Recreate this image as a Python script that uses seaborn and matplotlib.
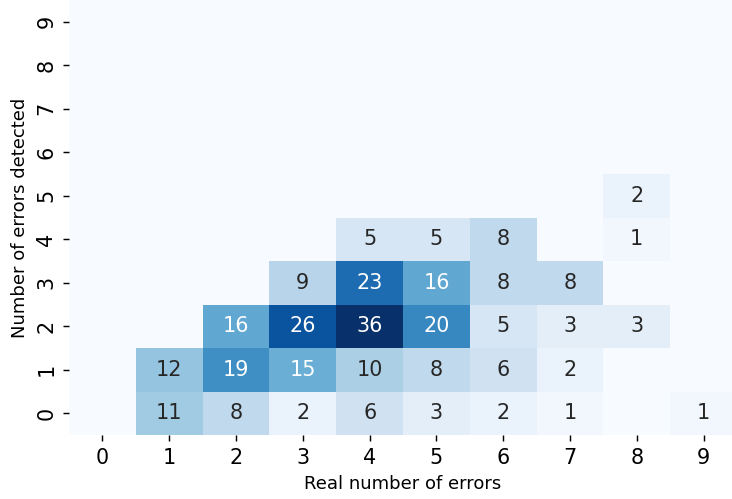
import numpy as np
import seaborn as sns
import matplotlib
matplotlib.use("Agg")
import matplotlib.pyplot as plt

real_errors = list(range(10))          # columns (x)
detected = list(range(10))             # rows (y)

# counts per detected row, indexed by real number of errors
row0 = [0, 11, 8, 2, 6, 3, 2, 1, 0, 1]
row1 = [0, 12, 19, 15, 10, 8, 6, 2, 0, 0]
row2 = [0, 0, 16, 26, 36, 20, 5, 3, 3, 0]
row3 = [0, 0, 0, 9, 23, 16, 8, 8, 0, 0]
row4 = [0, 0, 0, 0, 5, 5, 8, 0, 1, 0]
row5 = [0, 0, 0, 0, 0, 0, 0, 0, 2, 0]
row6 = [0] * 10
row7 = [0] * 10
row8 = [0] * 10
row9 = [0] * 10

counts = np.array([row0, row1, row2, row3, row4, row5, row6, row7, row8, row9])
labels = np.where(counts > 0, counts.astype(str), "")   # hide zeros

plt.rcParams['xtick.labelsize'] = 11.5
plt.rcParams['ytick.labelsize'] = 11.5

dpi = 130
fig = plt.figure(figsize=(732 / dpi, 499 / dpi), dpi=dpi)
ax = fig.add_axes([69 / 732, 64 / 499, 668 / 732, 435 / 499])

sns.heatmap(counts, annot=labels, fmt="", cmap="Blues", vmin=0, vmax=30, cbar=False,
            annot_kws={'size': 11.5},
            xticklabels=real_errors, yticklabels=detected, ax=ax)
ax.invert_yaxis()

ax.set_xlabel("Real number of errors", fontsize=10)
ax.set_ylabel("Number of errors detected", fontsize=10)

fig.savefig("out.png", dpi=dpi)
